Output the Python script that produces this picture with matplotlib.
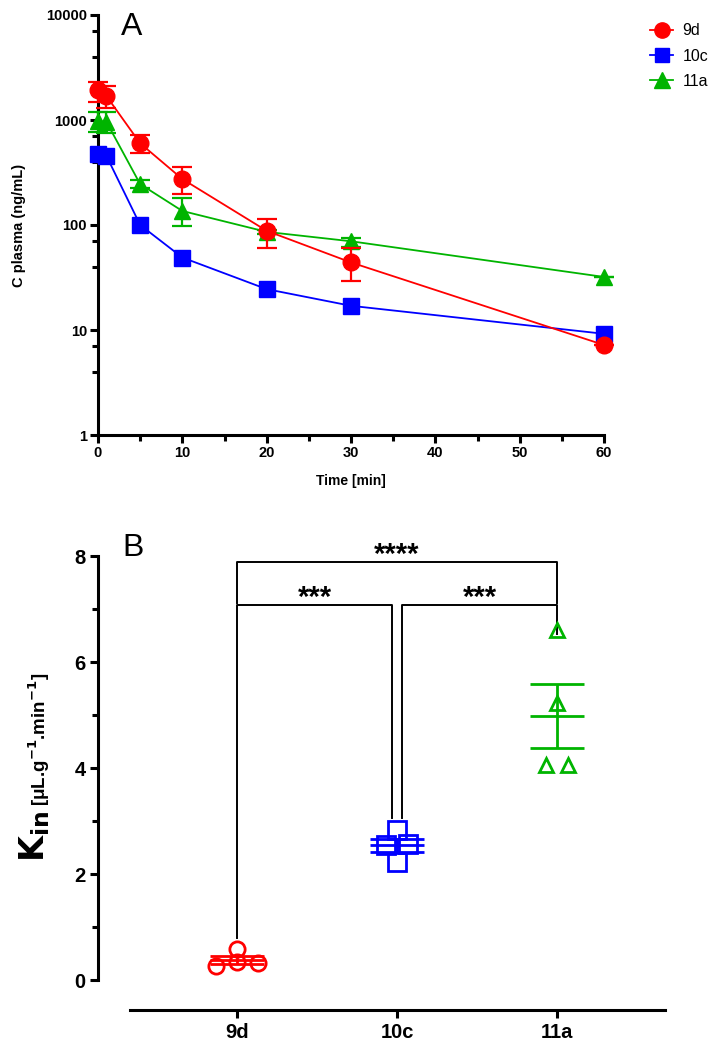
import matplotlib.pyplot as plt
import numpy as np
from matplotlib.lines import Line2D
from matplotlib.ticker import LogLocator, NullFormatter, FixedLocator

plt.rcParams['font.family'] = ['Liberation Sans', 'DejaVu Sans']

# ---- panel A data: plasma concentration vs time ----
time = [0, 1, 5, 10, 20, 30, 60]
c_9d = [1930, 1690, 600, 274, 88, 44, 7.2]
c_9d_lo = [1490, 1290, 490, 197, 61, 29, 7.2]
c_9d_hi = [2320, 2110, 720, 359, 113, 60, 7.2]
c_10c = [475, 455, 100, 49, 24.5, 17, 9.2]
c_11a = [980, 960, 245, 136, 86, 70, 32]
c_11a_lo = [775, 760, 225, 98, 82, 62, 32]
c_11a_hi = [1200, 1190, 270, 180, 90, 75, 32]

# ---- panel B data: Kin individual values ----
groups = ['9d', '10c', '11a']
kin_9d = [0.26, 0.58, 0.34, 0.32]
kin_10c = [2.83, 2.55, 2.57, 2.23]
kin_11a = [6.6, 5.23, 4.06, 4.06]
jitter_9d = [-0.13, 0.0, 0.0, 0.13]
jitter_10c = [0.0, -0.07, 0.07, 0.0]
jitter_11a = [0.0, 0.0, -0.07, 0.07]

red = '#FF0000'
blue = '#0000FF'
green = '#00B400'

fig = plt.figure(figsize=(7.15, 10.5), dpi=100)

# ================= Panel A =================
axA = fig.add_axes([98 / 715, 1 - 435 / 1050, (604 - 98) / 715, 420 / 1050])

axA.plot(time, c_10c, color=blue, marker='s', ms=11, lw=1.3, clip_on=False, zorder=3)
axA.errorbar(time, c_11a,
             yerr=[np.array(c_11a) - np.array(c_11a_lo), np.array(c_11a_hi) - np.array(c_11a)],
             color=green, marker='^', ms=12, lw=1.3, elinewidth=1.6, capsize=7, capthick=1.6,
             clip_on=False, zorder=4)
axA.errorbar(time, c_9d,
             yerr=[np.array(c_9d) - np.array(c_9d_lo), np.array(c_9d_hi) - np.array(c_9d)],
             color=red, marker='o', ms=12, lw=1.3, elinewidth=1.6, capsize=7, capthick=1.6,
             clip_on=False, zorder=5)

axA.set_yscale('log')
axA.set_ylim(1, 10000)
axA.set_xlim(0, 60)
axA.set_xticks([0, 10, 20, 30, 40, 50, 60])
axA.set_xticks([5, 15, 25, 35, 45, 55], minor=True)
axA.set_yticks([1, 10, 100, 1000, 10000])
axA.set_yticklabels(['1', '10', '100', '1000', '10000'])
axA.yaxis.set_minor_locator(LogLocator(base=10, subs=(4, 7)))
axA.yaxis.set_minor_formatter(NullFormatter())

for s in ['top', 'right']:
    axA.spines[s].set_visible(False)
for s in ['left', 'bottom']:
    axA.spines[s].set_linewidth(2.2)
axA.tick_params(which='major', width=2.2, length=6, labelsize=10.5, pad=2)
axA.tick_params(which='minor', width=2.2, length=4)
for lab in axA.get_xticklabels() + axA.get_yticklabels():
    lab.set_fontweight('bold')

axA.set_xlabel('Time [min]', fontsize=10, fontweight='bold', labelpad=10)
axA.set_ylabel('C plasma (ng/mL)', fontsize=10.5, fontweight='bold', labelpad=14)
fig.text(132 / 715, 1 - 27 / 1050, 'A', fontsize=23, ha='center', va='center')

handles = [
    Line2D([], [], color=red, marker='o', ms=11, lw=1.3),
    Line2D([], [], color=blue, marker='s', ms=10, lw=1.3),
    Line2D([], [], color=green, marker='^', ms=11, lw=1.3),
]
fig.legend(handles, groups, loc='center left', bbox_to_anchor=(636 / 715, 1 - 56 / 1050),
           frameon=False, fontsize=11.5, handlelength=1.4, handletextpad=0.6, labelspacing=0.65)

# ================= Panel B =================
y0_px, unit_px = 980, 53
top_val = 8.6
axB = fig.add_axes([98 / 715, 1 - y0_px / 1050, (665 - 98) / 715, top_val * unit_px / 1050])
axB.set_xlim(-0.87, 2.675)
axB.set_ylim(0, top_val)

series = [(kin_9d, jitter_9d, red, 'o', 11), (kin_10c, jitter_10c, blue, 's', 13),
          (kin_11a, jitter_11a, green, '^', 10)]
for i, (vals, jit, col, mk, size) in enumerate(series):
    vals = np.array(vals)
    xs = i + np.array(jit)
    axB.plot(xs, vals, ls='none', marker=mk, ms=size, mfc='none', mec=col, mew=2, zorder=3,
             clip_on=False)
    m = vals.mean()
    sem = vals.std(ddof=1) / np.sqrt(len(vals))
    hw = 0.17
    axB.hlines([m, m - sem, m + sem], i - hw, i + hw, color=col, lw=2, zorder=4)
    axB.vlines(i, m - sem, m + sem, color=col, lw=2, zorder=4)

# significance brackets
bk = dict(color='black', lw=1.4, clip_on=False)
axB.plot([0, 0, 2, 2], [7.11, 7.89, 7.89, 7.11], **bk)
axB.plot([0, 0, 0.97, 0.97], [0.8, 7.08, 7.08, 3.05], **bk)
axB.plot([1.03, 1.03, 2, 2], [3.05, 7.08, 7.08, 6.52], **bk)
axB.text(1, 7.86, '****', ha='center', va='baseline', fontsize=21, fontweight='bold')
axB.text(0.485, 7.05, '***', ha='center', va='baseline', fontsize=21, fontweight='bold')
axB.text(1.515, 7.05, '***', ha='center', va='baseline', fontsize=21, fontweight='bold')

axB.spines['top'].set_visible(False)
axB.spines['right'].set_visible(False)
axB.spines['left'].set_bounds(0, 8)
axB.spines['bottom'].set_position(('outward', 21.6))
axB.spines['bottom'].set_bounds(-0.67, 2.675)
for s in ['left', 'bottom']:
    axB.spines[s].set_linewidth(2.2)
axB.set_xticks([0, 1, 2])
axB.set_xticklabels(groups)
axB.set_yticks([0, 2, 4, 6, 8])
axB.yaxis.set_minor_locator(FixedLocator([1, 3, 5, 7]))
axB.tick_params(which='major', width=2.2, length=6, labelsize=14.5, pad=3)
axB.tick_params(which='minor', width=2.2, length=4)
for lab in axB.get_xticklabels() + axB.get_yticklabels():
    lab.set_fontweight('bold')

# y label: large K_in followed by the unit text
fig.text(44 / 715, 1 - 862 / 1050, r'$\mathbf{K_{in}}$', fontsize=24, rotation=90,
         rotation_mode='anchor', ha='left', va='baseline')
fig.text(46 / 715, 1 - 806 / 1050, r'[μL.g$^{\mathbf{-1}}$.min$^{\mathbf{-1}}$]', fontsize=13.5,
         fontweight='bold', rotation=90, rotation_mode='anchor', ha='left', va='baseline')
fig.text(133 / 715, 1 - 548 / 1050, 'B', fontsize=23, ha='center', va='center')

fig.savefig('out.png', dpi=100)
